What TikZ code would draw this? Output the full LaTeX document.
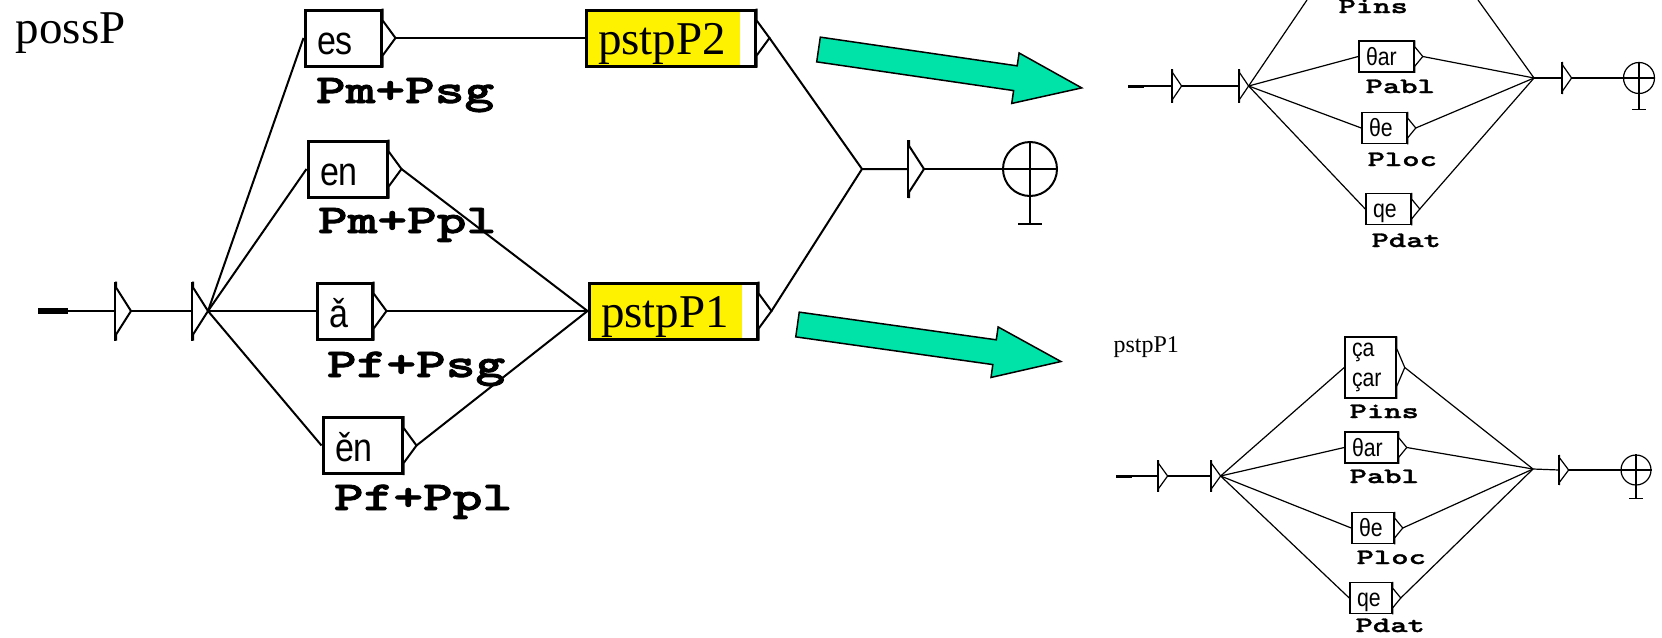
\documentclass[tikz,border=0pt]{standalone}
\usepackage{fontspec}
\usetikzlibrary{calc}
\newfontfamily\graphserif{Liberation Serif}
\newfontfamily\graphsans{Liberation Sans}[FakeStretch=0.85]
\newfontfamily\bigtag{lmmonolt10-bold.otf}[FakeStretch=1.38, FakeBold=2]
\newfontfamily\smalltag{lmmonolt10-bold.otf}[FakeStretch=1.5, FakeBold=1.5]
\definecolor{arrowgreen}{RGB}{0,227,168}

% output triangle of a box or state: #2 node, #3 tip length
\newcommand{\outtri}[3][.2]{%
  \coordinate (#2-tip) at ($(#2.east)+(#3,0)$);
  \draw (#2.north east) -- ($(#2.north east)!#1!(#2.south east)$) -- (#2-tip)
    -- ($(#2.south east)!#1!(#2.north east)$) -- (#2.south east);
}
% cross and foot of a final state
\newcommand{\finmark}[3]{%
  \draw (#1.west) -- (#1.east) (#1.north) -- ($(#1.south)+(0,#2)$) coordinate (#1-foot);
  \draw ($(#1-foot)+(-#3,0)$) -- ($(#1-foot)+(#3,0)$);
}

\tikzset{
  istate/.style={inner sep=0pt, minimum width=0pt},
  fstate/.style={circle, draw, inner sep=0pt},
  lbox/.style={draw, line width=3pt, inner xsep=12pt, inner ysep=0pt, minimum height=56pt,
    text height=36pt, text depth=4pt, align=left, font=\graphsans\fontsize{40pt}{44pt}\selectfont},
  subbox/.style={lbox, fill=yellow, font=\graphserif\fontsize{47pt}{50pt}\selectfont,
    path picture={\fill[white] ([xshift=-15pt]path picture bounding box.north east)
      rectangle (path picture bounding box.south east);}},
  sbox/.style={draw, line width=1.5pt, inner xsep=7pt, inner ysep=0pt, minimum height=31pt,
    align=left, font=\graphsans\fontsize{25pt}{30pt}\selectfont},
  rbox/.style={sbox, text height=20pt, text depth=3pt},
  tagL/.style={anchor=base west, inner sep=0pt, font=\bigtag\fontsize{41pt}{45pt}\selectfont},
  tagR/.style={anchor=base west, inner sep=0pt, font=\smalltag\fontsize{22pt}{24pt}\selectfont},
  gtitle/.style={anchor=base west, inner sep=0pt, font=\graphserif\fontsize{47pt}{50pt}\selectfont},
  stitle/.style={anchor=base west, inner sep=0pt, font=\graphserif\fontsize{24pt}{26pt}\selectfont},
  bigarrow/.style={fill=arrowgreen, draw=black, line width=1.5pt, line join=miter}
}

\begin{document}
\begin{tikzpicture}[x=1pt, y=-1pt]
\useasboundingbox (0,0) rectangle (1662,637);

% graph possP
\begin{scope}[line width=2pt]
  \node[gtitle] (title) at (15,43) {possP};
  \coordinate (in) at (38,311);
  \node[istate, minimum height=57pt] (q0) at (115,311) {};
  \node[istate, minimum height=57pt] (q1) at (192,311) {};
  \node[lbox, text width=52pt] (msg) at (343,38) {es};
  \node[lbox, text width=55pt] (mpl) at (347.5,169) {en};
  \node[lbox, text width=31pt] (fsg) at (344.5,311) {ǎ};
  \node[lbox, text width=55pt] (fpl) at (362.5,445.5) {ěn};
  \node[tagL] (msg-tag) at (315,103) {Pm+Psg};
  \node[tagL] (mpl-tag) at (317,233) {Pm+Ppl};
  \node[tagL] (fsg-tag) at (326,377) {Pf+Psg};
  \node[tagL] (fpl-tag) at (333,510) {Pf+Ppl};
  \node[subbox, text width=145pt] (P2) at (670.5,38) {pstpP2};
  \node[subbox, text width=144pt] (P1) at (673,311) {pstpP1};
  \coordinate (m) at (862,169);
  \node[istate, minimum height=56pt] (qf) at (908,169) {};
  \node[fstate, minimum size=54pt] (fin) at (1030,169) {};

  \draw (q0.north) -- (q0.south) (q1.north) -- (q1.south) (qf.north) -- (qf.south);
  \outtri[.1]{q0}{15}
  \outtri[.1]{q1}{15}
  \outtri[.1]{qf}{15}
  \foreach \b in {msg,mpl,fsg,fpl,P2,P1} {\outtri{\b}{13}}

  \draw[line width=6pt] (in) -- ++(30,0);
  \draw (in) -- (q0);
  \draw (q0-tip) -- (q1);
  \foreach \b in {msg,mpl,fsg,fpl} \draw (q1-tip) -- (\b.west);
  \draw (msg-tip) -- (P2.west);
  \foreach \b in {mpl,fsg,fpl} \draw (\b-tip) -- (P1.west);
  \draw (P2-tip) -- (m) (P1-tip) -- (m) (m) -- (qf);
  \draw (qf-tip) -- (fin);
  \finmark{fin}{27}{12}
\end{scope}

% arrows to the subgraphs
\foreach \ax/\ay/\ang in {818.5/49.5/-8.3, 797.5/324.5/-8.0}
  \filldraw[bigarrow, shift={(\ax,\ay)}, rotate=\ang]
    (0,-12.5) -- (199,-12.5) -- (199,-25.5) -- (266,0) -- (199,25.5) -- (199,12.5) -- (0,12.5) -- cycle;

% graph pstpP2 (cut at the top)
\begin{scope}[line width=1.2pt]
  \coordinate (tin) at (1128,86);
  \node[istate, minimum height=32pt] (t0) at (1172,86) {};
  \node[istate, minimum height=32pt] (t1) at (1239,86) {};
  \coordinate (tins-in) at (1307,0);
  \coordinate (tins-out) at (1478,0);
  \node[rbox, text width=41pt] (tabl) at (1386.5,56.5) {θar};
  \node[rbox, text width=31pt] (tloc) at (1384.5,128) {θe};
  \node[rbox, text width=31pt] (tdat) at (1388.5,209) {qe};
  \node[tagR] (tins-tag) at (1338,13) {Pins};
  \node[tagR] (tabl-tag) at (1365,93) {Pabl};
  \node[tagR] (tloc-tag) at (1367,166) {Ploc};
  \node[tagR] (tdat-tag) at (1371,247) {Pdat};
  \coordinate (tm) at (1534,78);
  \node[istate, minimum height=31pt] (tf) at (1562,78) {};
  \node[fstate, minimum size=31pt] (tfin) at (1639,78) {};

  \draw (t0.north) -- (t0.south) (t1.north) -- (t1.south) (tf.north) -- (tf.south);
  \foreach \b in {t0,t1,tf} {\outtri[.1]{\b}{9}}
  \foreach \b in {tabl,tloc,tdat} {\outtri{\b}{8}}

  \draw[line width=3pt] (tin) -- ++(16,0);
  \draw (tin) -- (t0);
  \draw (t0-tip) -- (t1);
  \draw (t1-tip) -- (tins-in) (tins-out) -- (tm);
  \foreach \b in {tabl,tloc,tdat} \draw (t1-tip) -- (\b.west) (\b-tip) -- (tm);
  \draw (tm) -- (tf);
  \draw (tf-tip) -- (tfin);
  \finmark{tfin}{15.5}{7}
\end{scope}

% graph pstpP1
\begin{scope}[line width=1.2pt]
  \node[stitle] (stitle) at (1113,352) {pstpP1};
  \coordinate (bin) at (1116,476);
  \node[istate, minimum height=30pt] (b0) at (1158,476) {};
  \node[istate, minimum height=30pt] (b1) at (1211,476) {};
  \node[sbox, text width=37pt, minimum height=61pt] (bins) at (1370.5,367.5) {ça\\çar};
  \node[rbox, text width=39pt] (babl) at (1371.5,447.5) {θar};
  \node[rbox, text width=28pt] (bloc) at (1373,528) {θe};
  \node[rbox, text width=28pt] (bdat) at (1371,598) {qe};
  \node[tagR] (bins-tag) at (1349,418) {Pins};
  \node[tagR] (babl-tag) at (1349,483) {Pabl};
  \node[tagR] (bloc-tag) at (1356,564) {Ploc};
  \node[tagR] (bdat-tag) at (1355,632) {Pdat};
  \coordinate (bm) at (1533,469);
  \node[istate, minimum height=29pt] (bf) at (1559,470) {};
  \node[fstate, minimum size=30pt] (bfin) at (1636,470) {};

  \draw (b0.north) -- (b0.south) (b1.north) -- (b1.south) (bf.north) -- (bf.south);
  \foreach \b in {b0,b1,bf} {\outtri[.1]{\b}{9}}
  \foreach \b in {bins,babl,bloc,bdat} {\outtri{\b}{8}}

  \draw[line width=3pt] (bin) -- ++(16,0);
  \draw (bin) -- (b0);
  \draw (b0-tip) -- (b1);
  \foreach \b in {bins,babl,bloc,bdat} \draw (b1-tip) -- (\b.west) (\b-tip) -- (bm);
  \draw (bm) -- (bf);
  \draw (bf-tip) -- (bfin);
  \finmark{bfin}{13}{7}
\end{scope}
\end{tikzpicture}
\end{document}
